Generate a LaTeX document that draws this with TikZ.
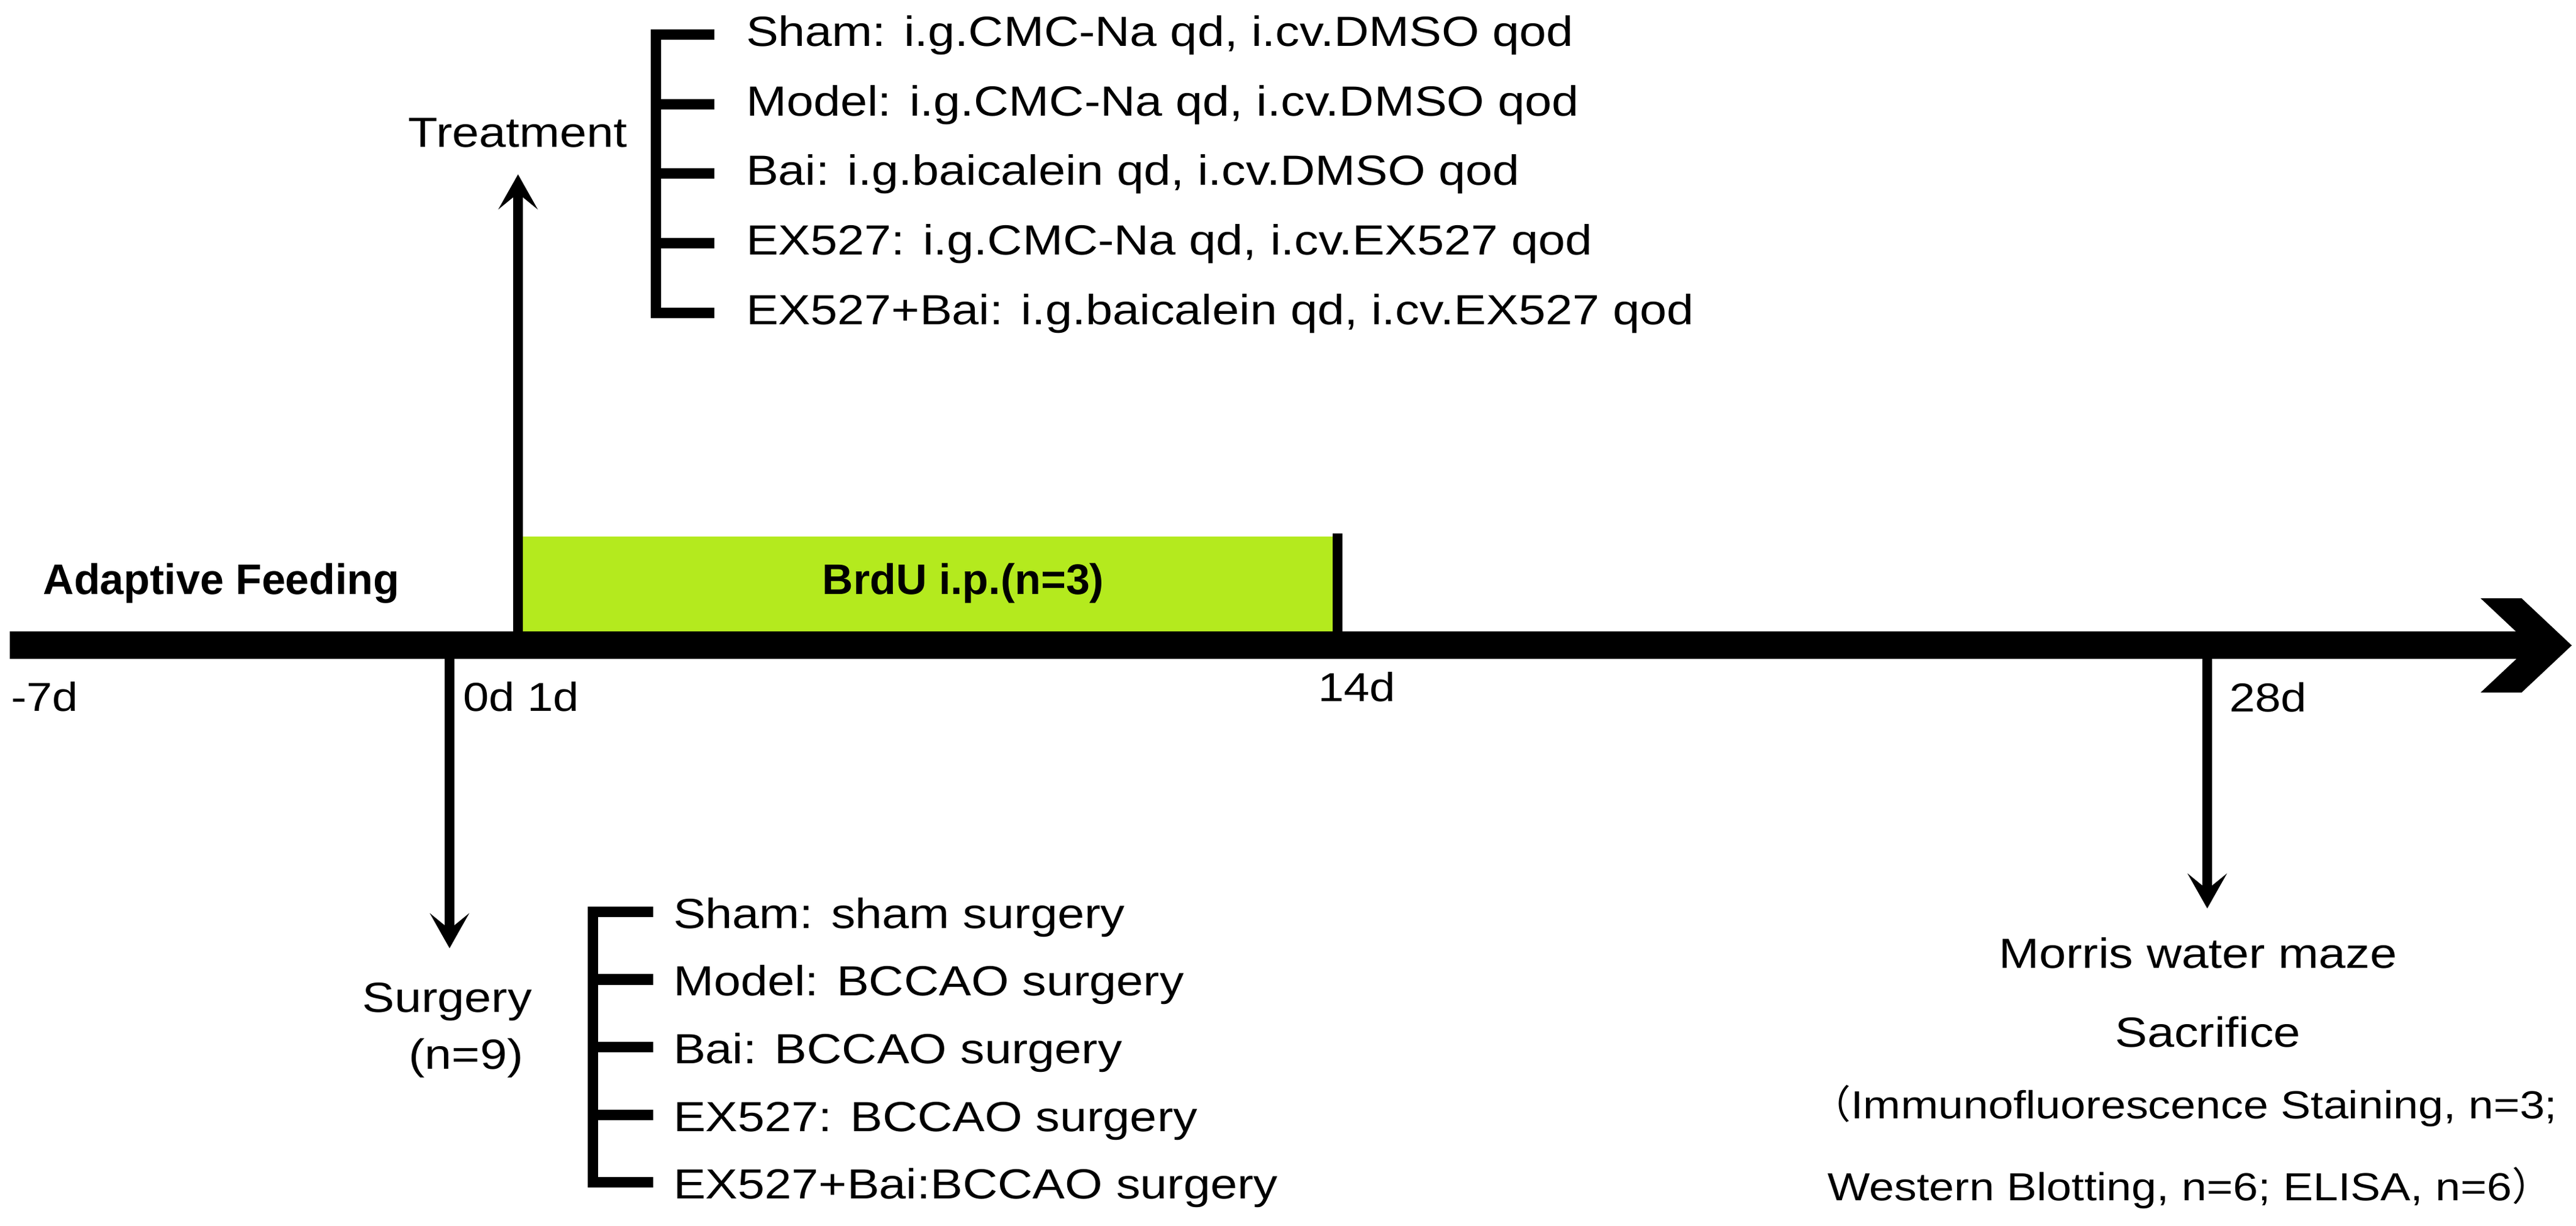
\documentclass[tikz,border=0pt]{standalone}
\usepackage{fontspec}
\setmainfont{Liberation Sans}
\newfontfamily\widesf[FakeStretch=1.15]{Liberation Sans}
\newfontfamily\cjk{Noto Sans CJK SC}
\usetikzlibrary{arrows.meta}
\definecolor{brdugreen}{RGB}{180,234,30}

\begin{document}
\begin{tikzpicture}[> = {Stealth[length=5.7mm,width=6.4mm,inset=2.6mm]}, % arrow head style
	line width=1.6mm, % line style
	every node/.style={inner sep=0pt},
	lbl/.style={font=\widesf\fontsize{19.6}{23}\selectfont},
	day/.style={font=\widesf\fontsize{18.8}{22}\selectfont,anchor=base west},
	head/.style={font=\bfseries\fontsize{19.9}{23}\selectfont,anchor=base},
	low/.style={font=\widesf\fontsize{18.2}{22}\selectfont,anchor=base},
	tick/.style={line width=1.7mm}]
	\useasboundingbox (0,0) rectangle (42.12,20.03);

	% time line
	\coordinate (start) at (0.16,9.48);
	\coordinate (end) at (41.45,9.48);
	\coordinate (d0) at (7.35,9.255);
	\coordinate (d1) at (8.47,9.705);
	\coordinate (d14) at (21.87,9.705);
	\coordinate (d14top) at (21.87,11.31);
	\coordinate (d28) at (36.09,9.255);
	\coordinate (trt) at (8.47,17.18);
	\coordinate (srg) at (7.35,4.53);
	\coordinate (end28) at (36.09,5.18);

	\fill[brdugreen] (d1) rectangle (21.87,11.26);
	\draw[line width=4.5mm] (start)--(end);
	\fill (40.56,10.25)--(41.23,10.25)--(42.05,9.48)--(41.23,8.71)--(40.56,8.71)--(41.38,9.48)--cycle;
	\draw (d14)--(d14top);

	\draw[->] (d1)--(trt);
	\draw[->] (d0)--(srg);
	\draw[->] (d28)--(end28);

	\node[head] (feed) at (3.62,10.31) {Adaptive Feeding};
	\node[head] (brdu) at (15.75,10.31) {BrdU i.p.(n=3)};

	\node[day] (m7) at (0.10,8.40) {-7d};
	\node[day] (d01) at (7.49,8.40) {0d 1d};
	\node[day] (l14) at (21.47,8.56) {14d};
	\node[day] (l28) at (36.37,8.39) {28d};

	% treatment groups
	\node[lbl,anchor=base east] (trtlbl) at (10.34,17.62) {Treatment};
	\foreach \i/\y/\txt in {1/19.27/{Sham: i.g.CMC-Na qd, i.cv.DMSO qod},
		2/18.13/{Model: i.g.CMC-Na qd, i.cv.DMSO qod},
		3/17.00/{Bai: i.g.baicalein qd, i.cv.DMSO qod},
		4/15.86/{EX527: i.g.CMC-Na qd, i.cv.EX527 qod},
		5/14.72/{EX527+Bai: i.g.baicalein qd, i.cv.EX527 qod}} {
		\node[lbl,anchor=base west] (t\i) at (12.12,\y) {\txt};
		\draw[tick] ([shift={(-0.44,0.19)}]t\i.base west) -- ++(-1.045,0);
	}
	\draw[tick] ([shift={(-1.40,0.275)}]t1.base west) -- ([shift={(-1.40,0.105)}]t5.base west);

	% surgery groups
	\node[lbl,anchor=base] (srglbl) at (7.31,3.49) {Surgery};
	\node[lbl,anchor=base] (nine) at (7.62,2.56) {(n=9)};
	\foreach \i/\y/\txt in {1/4.85/{Sham: sham surgery},
		2/3.75/{Model: BCCAO surgery},
		3/2.65/{Bai: BCCAO surgery},
		4/1.54/{EX527: BCCAO surgery},
		5/0.44/{EX527+Bai:BCCAO surgery}} {
		\node[lbl,anchor=base west] (s\i) at (10.93,\y) {\txt};
		\draw[tick] ([shift={(-0.25,0.27)}]s\i.base west) -- ++(-1.075,0);
	}
	\draw[tick] ([shift={(-1.24,0.355)}]s1.base west) -- ([shift={(-1.24,0.185)}]s5.base west);

	% day 28
	\node[lbl,anchor=base] (mwm) at (35.94,4.21) {Morris water maze};
	\node[lbl,anchor=base] (sacr) at (36.10,2.92) {Sacrifice};
	\node[low] (assay1) at (35.72,1.75) {{\cjk （}Immunofluorescence Staining, n=3;};
	\node[low] (assay2) at (35.80,0.41) {Western Blotting, n=6; ELISA, n=6{\cjk ）}};

\end{tikzpicture}
\end{document}
